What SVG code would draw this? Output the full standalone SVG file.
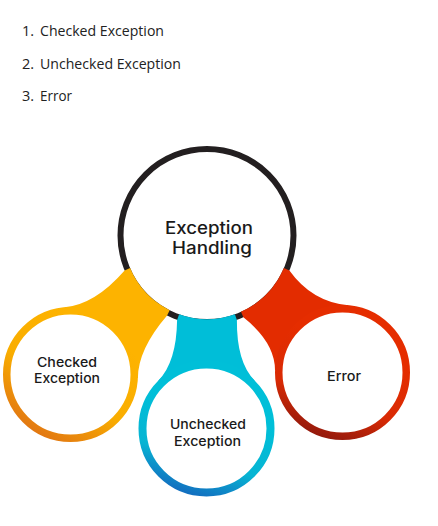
<svg xmlns="http://www.w3.org/2000/svg" width="438" height="526" viewBox="0 0 438 526">
<style>
.list{font-family:"Open Sans","Liberation Sans",sans-serif;font-size:14.5px;fill:#222}
.lbl{font-family:Inter,"Open Sans","Liberation Sans",sans-serif;font-weight:500;fill:#1a1a1a;text-anchor:middle}
.big{font-size:17px}
.small{font-size:13px}
.inner{fill:#fff}
</style>
<defs>
<linearGradient id="gY" x1="0.8" y1="0.2" x2="0.3" y2="1"><stop offset="0" stop-color="#FDB300"/><stop offset="0.55" stop-color="#F9AD00"/><stop offset="1" stop-color="#E27812"/></linearGradient>
<linearGradient id="gT" x1="0.55" y1="0.35" x2="0.35" y2="1"><stop offset="0" stop-color="#00BFD8"/><stop offset="0.6" stop-color="#07B4D3"/><stop offset="1" stop-color="#1270C0"/></linearGradient>
<linearGradient id="gR" x1="0.6" y1="0.3" x2="0.35" y2="1"><stop offset="0" stop-color="#E52D00"/><stop offset="0.6" stop-color="#D92A04"/><stop offset="1" stop-color="#961A0C"/></linearGradient>
</defs>
<g id="list">
<text class="list" x="22" y="36">1.</text><text class="list" x="40" y="36" textLength="124" lengthAdjust="spacingAndGlyphs">Checked Exception</text>
<text class="list" x="22" y="69">2.</text><text class="list" x="40" y="69" textLength="141" lengthAdjust="spacingAndGlyphs">Unchecked Exception</text>
<text class="list" x="22" y="101">3.</text><text class="list" x="40" y="101" textLength="32" lengthAdjust="spacingAndGlyphs">Error</text>
</g>
<g id="node-exception-handling">
<circle cx="207" cy="235.5" r="86.5" fill="#fff" stroke="#231F20" stroke-width="6"/>
<text class="lbl big" x="209" y="234" textLength="88" lengthAdjust="spacingAndGlyphs">Exception</text>
<text class="lbl big" x="212" y="254" textLength="80" lengthAdjust="spacingAndGlyphs">Handling</text>
</g>
<g id="connectors">
<path fill="#FDB300" d="M130.1,268.1 L124.6,270.5 Q95.1,304.4 64.6,307.3 L70.5,374.5 L137.9,378 Q138,349.4 167.1,315.6 L169.7,310.2 A83.5,83.5 0 0 1 130.1,268.1 Z"/>
<path fill="#00BED8" d="M179.1,314.2 L177.1,319.9 Q176.5,362 158.4,380.4 L206.5,428.5 L254.6,380.4 Q236.5,362 236.9,319.9 L234.9,314.2 A83.5,83.5 0 0 1 179.1,314.2 Z"/>
<path fill="#E32C00" d="M283.9,268.1 L289.4,270.5 Q312,302 348.4,305.3 L342.5,372.5 L275,370.1 Q275,342.4 243.4,317.3 L241,311.8 A83.5,83.5 0 0 0 283.9,268.1 Z"/>
</g>
<g id="node-checked">
<circle cx="70.5" cy="374.5" r="63.75" fill="#fff" stroke="url(#gY)" stroke-width="7.5"/>
<text class="lbl small" x="67" y="367" textLength="60" lengthAdjust="spacingAndGlyphs">Checked</text>
<text class="lbl small" x="67" y="383" textLength="66" lengthAdjust="spacingAndGlyphs">Exception</text>
</g>
<g id="node-unchecked">
<circle cx="206.5" cy="428.5" r="64" fill="#fff" stroke="url(#gT)" stroke-width="8"/>
<text class="lbl small" x="208" y="429" textLength="76" lengthAdjust="spacingAndGlyphs">Unchecked</text>
<text class="lbl small" x="207.5" y="445.5" textLength="67" lengthAdjust="spacingAndGlyphs">Exception</text>
</g>
<g id="node-error">
<circle cx="342.5" cy="372.5" r="63.75" fill="#fff" stroke="url(#gR)" stroke-width="7.5"/>
<text class="lbl small" x="344" y="380.5" textLength="34" lengthAdjust="spacingAndGlyphs">Error</text>
</g>
</svg>
